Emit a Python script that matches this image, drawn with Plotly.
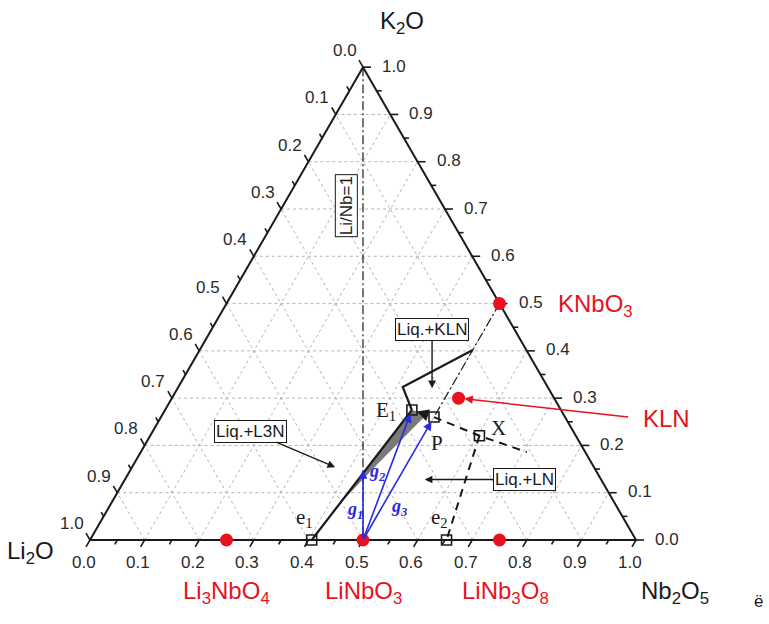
import numpy as np
import plotly.graph_objects as go

# ---------------------------------------------------------------
# Li2O - K2O - Nb2O5 ternary section.
# Every composition is given as mole fractions (Nb2O5, K2O);
# Li2O is the remainder.
# ---------------------------------------------------------------

# compounds
phase_names = ["Li<sub>3</sub>NbO<sub>4</sub>", "LiNbO<sub>3</sub>",
               "LiNb<sub>3</sub>O<sub>8</sub>", "KNbO<sub>3</sub>", "KLN"]
phase_nb = [0.25, 0.50, 0.75, 0.50, 0.525]
phase_k = [0.00, 0.00, 0.00, 0.50, 0.30]

# invariant points
inv_names = ["E<sub>1</sub>", "P", "X", "e<sub>1</sub>", "e<sub>2</sub>"]
inv_nb = [0.452, 0.500, 0.603, 0.406, 0.653]
inv_k = [0.275, 0.260, 0.2205, 0.000, 0.000]

# boundary curves
valley_nb, valley_k = [0.406, 0.452], [0.000, 0.275]              # e1 -> E1
kln_field_nb, kln_field_k = [0.452, 0.411, 0.500], [0.275, 0.3235, 0.402]
px_nb, px_k = [0.500, 0.603, 0.707], [0.260, 0.2205, 0.186]       # P -> X -> ...
xe2_nb, xe2_k = [0.603, 0.653], [0.2205, 0.000]                   # X -> e2
join_nb, join_k = [0.500, 0.500], [0.500, 0.260]                  # KNbO3 -> P
linb_nb, linb_k = [0.000, 0.500], [1.000, 0.000]                  # Li/Nb = 1

# shaded crystallisation region along the e1-E1 valley
path_nb = [0.452, 0.484, 0.443, 0.419, 0.414]
path_k = [0.275, 0.266, 0.152, 0.075, 0.052]

# liquid paths starting at LiNbO3
g_nb = [0.426, 0.452, 0.500]
g_k = [0.148, 0.275, 0.260]
g_labels = ["g<sub>1</sub>", "g<sub>2</sub>", "g<sub>3</sub>"]

# field labels and the points their arrows point at
field_labels = ["Liq.+KLN", "Liq.+L3N", "Liq.+LN"]
field_nb = [0.466, 0.372, 0.549]
field_k = [0.321, 0.154, 0.128]

tick_vals = [round(0.1 * i, 1) for i in range(11)]
tick_text = [f"{v:.1f}" for v in tick_vals]
minor_vals = [round(0.05 + 0.1 * i, 2) for i in range(10)]

# ---------------------------------------------------------------
W, H = 769, 624
S = 546.0             # pixel length of a triangle side
OX, OY = 90.0, 540.0  # pixel position of the Li2O corner
R3 = np.sqrt(3) / 2


def xy(nb, k):
    nb = np.asarray(nb, dtype=float)
    k = np.asarray(k, dtype=float)
    return nb + k / 2, k * R3


def px(d):
    return d / S


SANS = "Liberation Sans, Arial, sans-serif"
SERIF = "Liberation Serif, Times New Roman, serif"
RED = "#e8121e"
BLUE = "#2a2ae0"
INK = "#1a1a1a"

fig = go.Figure()


def add_line(xs, ys, **line):
    fig.add_trace(go.Scatter(x=xs, y=ys, mode="lines", line=line,
                             hoverinfo="skip", showlegend=False))


# grid: constant K2O, constant Nb2O5, constant Li2O
gx, gy = [], []
for v in tick_vals[1:-1]:
    for a, b in (((0, v), (1 - v, v)),          # K2O = v
                 ((v, 0), (v, 1 - v)),          # Nb2O5 = v
                 ((1 - v, 0), (0, 1 - v))):     # Li2O = v
        x0, y0 = xy(*a)
        x1, y1 = xy(*b)
        gx += [x0, x1, None]
        gy += [y0, y1, None]
add_line(gx, gy, color="#b4b4b4", width=1, dash="dot")

# triangle frame
tx, ty = xy([0, 1, 0, 0], [0, 0, 1, 0])
add_line(list(tx), list(ty), color=INK, width=2)

# ticks pointing outward along the grid directions
tkx, tky = [], []
for vals, ln in ((tick_vals, 8.0), (minor_vals, 5.0)):
    L = px(ln)
    for v in vals:
        # bottom (Nb2O5): down-left
        x0, y0 = xy(v, 0)
        tkx += [x0, x0 - 0.5 * L, None]
        tky += [y0, y0 - R3 * L, None]
        # right (K2O): to the right
        x0, y0 = xy(1 - v, v)
        tkx += [x0, x0 + L, None]
        tky += [y0, y0, None]
        # left (Li2O): up-left
        x0, y0 = xy(0, 1 - v)
        tkx += [x0, x0 - 0.5 * L, None]
        tky += [y0, y0 + R3 * L, None]
add_line(tkx, tky, color=INK, width=1.6)

# shaded region
sx, sy = xy(path_nb, path_k)
fig.add_trace(go.Scatter(x=list(sx) + [sx[0]], y=list(sy) + [sy[0]], mode="lines",
                         fill="toself", fillcolor="#7a7a7a", line=dict(width=0),
                         hoverinfo="skip", showlegend=False))

# section lines
x, y = xy(linb_nb, linb_k)
add_line(x, y, color=INK, width=1.2, dash="9px,3px,2px,3px")
x, y = xy(join_nb, join_k)
add_line(x, y, color=INK, width=1.2, dash="9px,3px,2px,3px")

# boundary curves
x, y = xy(valley_nb, valley_k)
add_line(x, y, color=INK, width=2.2)
x, y = xy(kln_field_nb, kln_field_k)
add_line(x, y, color=INK, width=2.2)
x, y = xy(px_nb, px_k)
add_line(x, y, color=INK, width=2, dash="8px,6px")
x, y = xy(xe2_nb, xe2_k)
add_line(x, y, color=INK, width=2, dash="8px,6px")

# compounds
x, y = xy(phase_nb, phase_k)
fig.add_trace(go.Scatter(x=x, y=y, mode="markers",
                         marker=dict(size=13, color=RED, line=dict(width=0)),
                         hoverinfo="skip", showlegend=False, cliponaxis=False))

# invariant points
x, y = xy(inv_nb, inv_k)
fig.add_trace(go.Scatter(x=x, y=y, mode="markers",
                         marker=dict(size=10, symbol="square-open", color=INK,
                                     line=dict(width=1.6, color=INK)),
                         hoverinfo="skip", showlegend=False, cliponaxis=False))

ann = []


def text_at(nb, k, text, dx, dy, size, color=INK, family=SANS, **kw):
    x0, y0 = xy(nb, k)
    ann.append(dict(x=float(x0), y=float(y0), xref="x", yref="y", text=text,
                    showarrow=False, xshift=dx, yshift=-dy,
                    font=dict(family=family, size=size, color=color), **kw))


# tick labels on the three edges
for v, t in zip(tick_vals, tick_text):
    text_at(v, 0, t, -6.5, 22, 17, color="#2a2a2a")            # Nb2O5
    text_at(1 - v, v, t, 31, -1, 17, color="#2a2a2a")          # K2O
    text_at(0, 1 - v, t, -18.5, -16.5, 17, color="#2a2a2a")    # Li2O

# axis titles at the corners
text_at(0, 1, "K<sub>2</sub>O", 39, -45, 24)
text_at(0, 0, "Li<sub>2</sub>O", -34, 12, 24, xanchor="right")
text_at(1, 0, "Nb<sub>2</sub>O<sub>5</sub>", 39, 52, 24)

# compound labels
for name, nb, k, dx, dy, kw in zip(
        phase_names, phase_nb, phase_k,
        [0, 0, 6, 56, 208], [52, 52, 52, 2, 20],
        [{}, {}, {}, {"xanchor": "left"}, {}]):
    text_at(nb, k, name, dx, dy, 24, color=RED, **kw)

# invariant point labels
for name, nb, k, dx, dy in zip(inv_names, inv_nb, inv_k,
                               [-26, 3, 19, -7, -7], [1, 26, -8, -22, -22]):
    text_at(nb, k, name, dx, dy, 21, family=SERIF)

# arrows: LiNbO3 -> liquid path points
lx, ly = xy(phase_nb[1], phase_k[1])
for nb, k, so in zip(g_nb, g_k, [0, 4, 5]):
    x0, y0 = xy(nb, k)
    ann.append(dict(x=float(x0), y=float(y0), ax=float(lx), ay=float(ly),
                    xref="x", yref="y", axref="x", ayref="y", text="",
                    showarrow=True, arrowhead=2, arrowsize=1.1, arrowwidth=1.6,
                    arrowcolor=BLUE, standoff=so, startstandoff=0))
for lab, (nb, k), dx, dy in zip(g_labels,
                                [(phase_nb[1], phase_k[1]), (g_nb[0], g_k[0]),
                                 (phase_nb[1], phase_k[1])],
                                [-8, 14, 36], [-30, 2, -33]):
    styled = "<b><i>" + lab.replace("<sub>", "</i><sub><i>").replace("</sub>", "</i></sub><i>") + "</i></b>"
    text_at(nb, k, styled, dx, dy, 18, color=BLUE, family=SERIF)

# P -> E1 along the peritectic boundary
ex, ey = xy(inv_nb[0], inv_k[0])
pxx, pyy = xy(inv_nb[1], inv_k[1])
ann.append(dict(x=float(ex), y=float(ey), ax=float(pxx), ay=float(pyy),
                xref="x", yref="y", axref="x", ayref="y", text="",
                showarrow=True, arrowhead=2, arrowsize=1, arrowwidth=2.4,
                arrowcolor=INK, standoff=5, startstandoff=5))

# field labels with pointers
for lab, nb, k, (ax, ay) in zip(field_labels, field_nb, field_k,
                                [(0, -59), (-85, -36), (100, 0)]):
    x0, y0 = xy(nb, k)
    ann.append(dict(x=float(x0), y=float(y0), ax=ax, ay=ay, xref="x", yref="y",
                    text=lab, showarrow=True, arrowhead=2, arrowsize=1.1,
                    arrowwidth=1.4, arrowcolor=INK, bgcolor="white",
                    bordercolor=INK, borderwidth=1, borderpad=1,
                    font=dict(family=SANS, size=17, color=INK)))

# KLN pointer
kx, ky = xy(phase_nb[4], phase_k[4])
ann.append(dict(x=float(kx), y=float(ky), ax=171, ay=19, xref="x", yref="y",
                text="", showarrow=True, arrowhead=2, arrowsize=1.1,
                arrowwidth=1.5, arrowcolor=RED, standoff=6))

# Li/Nb = 1 tag on the section line
text_at(0.147, 0.706, "Li/Nb=1", -17, 0, 17, textangle=-90, bgcolor="white",
        bordercolor=INK, borderwidth=1, borderpad=1)

# stray glyph at the lower right corner of the page
ann.append(dict(x=(758 - OX) / S, y=(OY - 601) / S, xref="x", yref="y",
                text="ë", showarrow=False,
                font=dict(family=SANS, size=17, color=INK)))

fig.update_layout(
    width=W, height=H,
    margin=dict(l=0, r=0, t=0, b=0),
    paper_bgcolor="white", plot_bgcolor="white",
    showlegend=False,
    annotations=ann,
    xaxis=dict(visible=False, range=[-OX / S, (W - OX) / S], fixedrange=True),
    yaxis=dict(visible=False, range=[-(H - OY) / S, OY / S], fixedrange=True),
)

fig.write_html("out.html")
